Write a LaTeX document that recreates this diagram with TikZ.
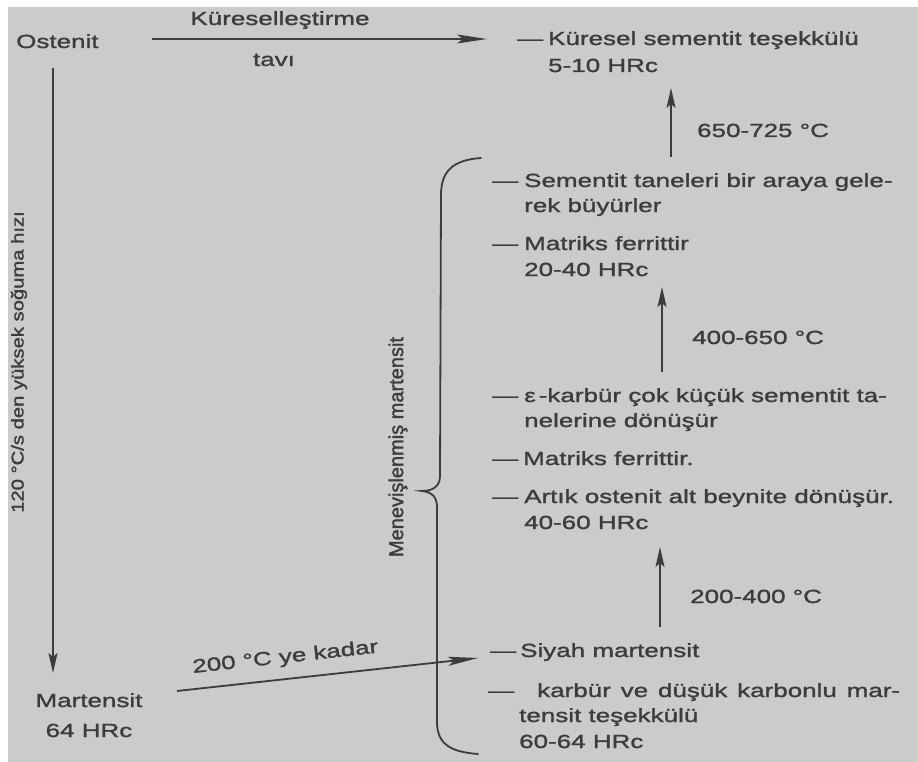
\documentclass[tikz,border=0pt]{standalone}
\usepackage{fontspec}
\setmainfont{Liberation Sans}[FakeStretch=1.368,FakeBold=1.4]
\newfontfamily\sidefont{Liberation Sans}[FakeStretch=1.19,FakeBold=1.6]
\newfontfamily\bracefont{Liberation Sans}[FakeBold=1.6]
\usetikzlibrary{arrows.meta}
\definecolor{ink}{HTML}{3C3C3C}
\definecolor{bgc}{HTML}{CBCBCB}
\newcommand{\dsh}[1]{\makebox[#1][l]{—}}
\begin{document}
\begin{tikzpicture}[x=1pt,y=-1pt,
  txt/.style={font=\fontsize{19pt}{25.5pt}\selectfont, text=ink, inner sep=0pt, anchor=base west},
  ctxt/.style={font=\fontsize{19pt}{25.5pt}\selectfont, text=ink, inner sep=0pt, anchor=base},
  conn/.style={draw=ink, line width=1.8pt, -{Stealth[length=20pt,width=9pt,inset=4pt]}},
  longconn/.style={draw=ink, line width=1.8pt, -{Stealth[length=30pt,width=9pt,inset=6pt]}},
  bracestyle/.style={draw=ink, line width=1.8pt, line cap=round}]
\useasboundingbox (0,0) rectangle (918,762);
\fill[white] (0,0) rectangle (918,762);
\fill[bgc] (8,7) rectangle (918,762);

% left column
\node[txt] (ost) at (16,48) {Ostenit};
\node[ctxt] (mart) at (89,707) {Martensit};
\node[ctxt] (mart2) at (89,737) {64 HRc};
\node[text=ink, inner sep=0pt, rotate=90, font=\sidefont\fontsize{17pt}{20pt}\selectfont] (cool) at (19,362) {120 °C/s den yüksek soğuma hızı};

% top transition
\node[ctxt] (kurlbl) at (280,25) {Küreselleştirme};
\node[ctxt] (tavi) at (274,66) {tavı};
\node[txt] (k1) at (517,45) {\dsh{31pt}Küresel sementit teşekkülü};
\node[txt] (k2) at (548,72) {5-10 HRc};
\node[txt] (t1) at (697,137) {650-725 °C};

% items
\node[txt] (s1) at (492,187) {\dsh{32pt}Sementit taneleri bir araya gele-};
\node[txt] (s2) at (524,212) {rek büyürler};
\node[txt] (m1) at (492,250) {\dsh{32pt}Matriks ferrittir};
\node[txt] (m2) at (524,276) {20-40 HRc};
\node[txt] (t2) at (692,344) {400-650 °C};
\node[txt] (e1) at (492,402) {\dsh{32pt}ε\kern3pt-karbür çok küçük sementit ta-};
\node[txt] (e2) at (524,427) {nelerine dönüşür};
\node[txt] (f1) at (492,465) {\dsh{31pt}Matriks ferrittir.};
\node[txt] (a1) at (492,503) {\dsh{32pt}Artık ostenit alt beynite dönüşür.};
\node[txt] (a2) at (524,529) {40-60 HRc};
\node[txt] (t3) at (690,603) {200-400 °C};
\node[txt] (y1) at (490,657) {\dsh{30pt}Siyah martensit};
\node[txt] (c1) at (488,697) {\dsh{49pt}\makebox[363pt][s]{karbür ve düşük karbonlu mar-}};
\node[txt] (c2) at (519,722) {tensit teşekkülü};
\node[txt] (c3) at (519,748) {60-64 HRc};

% brace label
\node[text=ink, inner sep=0pt, rotate=90, font=\bracefont\fontsize{20pt}{22pt}\selectfont] (menev) at (398,447) {Menevişlenmiş martensit};

% connector end points
\coordinate (topS) at (152,39);
\coordinate (topE) at (487,39);
\coordinate (downS) at (53,68);
\coordinate (downE) at (53,673);
\coordinate (diagS) at (177,691);
\coordinate (diagE) at (478,658);
\coordinate (v1S) at (671,157);
\coordinate (v1E) at (671,88);
\coordinate (v2S) at (662,372);
\coordinate (v2E) at (662,287);
\coordinate (v3S) at (660,627);
\coordinate (v3E) at (660,547);

% connectors
\draw[longconn] (topS) -- (topE);
\draw[conn] (downS) -- (downE);
\draw[longconn] (diagS) -- (diagE);
\draw[conn] (v1S) -- (v1E);
\draw[conn] (v2S) -- (v2E);
\draw[conn] (v3S) -- (v3E);

% label on diagonal
\node[txt, rotate=6.3] (kadar) at (193,673) {200 °C ye kadar};

% brace
\draw[bracestyle] (481,158) .. controls (452,160) and (441,172) .. (441,195)
  -- (440,476) .. controls (440,487) and (432,491) .. (422,491)
  .. controls (432,492) and (437,497) .. (437,507)
  -- (437,722) .. controls (437,745) and (452,752) .. (478,754);
\end{tikzpicture}
\end{document}
